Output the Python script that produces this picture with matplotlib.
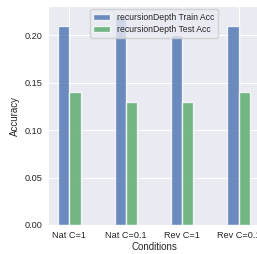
import numpy as np
import matplotlib
matplotlib.use('Agg')
import matplotlib.pyplot as plt
import seaborn as sns

conditions = ['Nat C=1', 'Nat C=0.1', 'Rev C=1', 'Rev C=0.1']
train_acc = [0.21, 0.22, 0.20, 0.21]
test_acc = [0.14, 0.13, 0.13, 0.14]

sns.set_style('darkgrid')
plt.rcParams['font.family'] = ['Liberation Sans', 'DejaVu Sans']

fig = plt.figure(figsize=(2.57, 2.54), dpi=100)
ax = fig.add_axes([48 / 257, 29 / 254, 212 / 257, 219 / 254])

x = np.arange(len(conditions))
w = 0.2
ax.bar(x - w / 2, train_acc, w, color='#4C72B0', alpha=0.8, label='recursionDepth Train Acc')
ax.bar(x + w / 2, test_acc, w, color='#55A868', alpha=0.8, label='recursionDepth Test Acc')

ax.set_xlim(-0.38, 3.38)
ax.set_ylim(0, 0.231)
ax.set_yticks([0.0, 0.05, 0.10, 0.15, 0.20])
ax.set_xticks(x)
ax.set_xticklabels(conditions, rotation=0)
ax.tick_params(labelsize=6.6, length=0, pad=4)
ax.set_xlabel('Conditions', fontsize=7, labelpad=2)
ax.set_ylabel('Accuracy', fontsize=7, labelpad=3)
ax.legend(loc='upper center', fontsize=6.2, frameon=True, handlelength=2.0,
          borderaxespad=0.4, labelspacing=0.4)

fig.savefig('out.png', dpi=100)
